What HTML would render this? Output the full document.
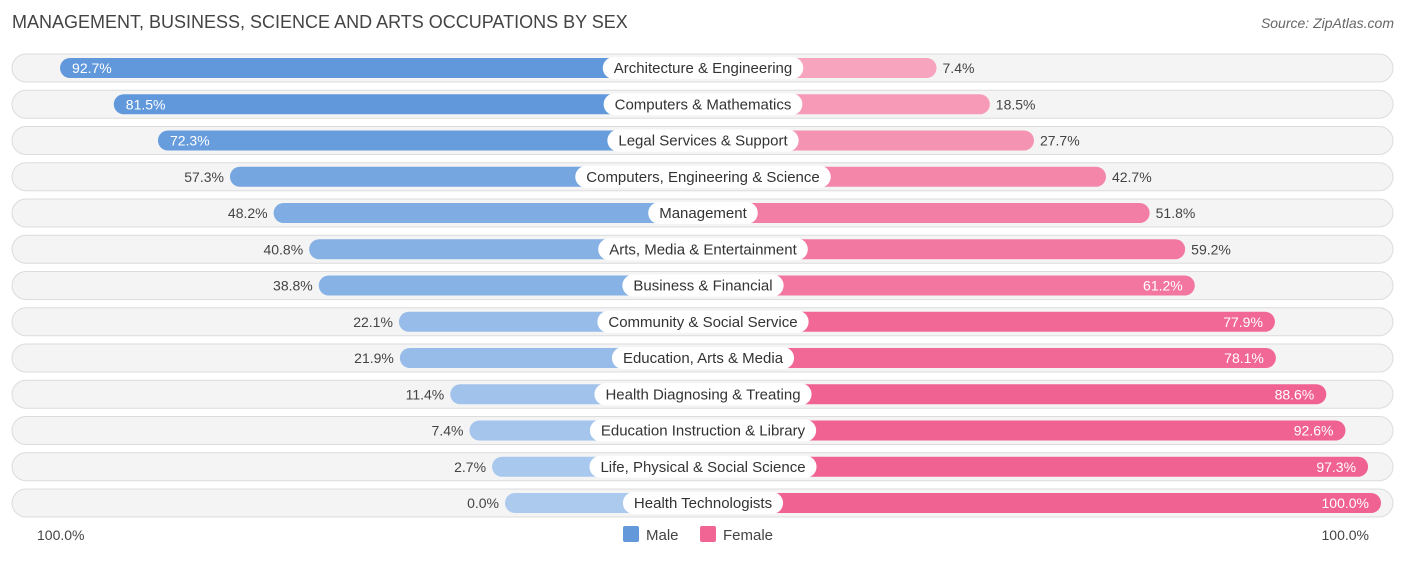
<!DOCTYPE html>
<html><head><meta charset="utf-8">
<style>
body{margin:0;background:#fff;font-family:"Liberation Sans",Roboto,sans-serif;}
svg text{font-family:"Liberation Sans",sans-serif;}
</style></head>
<body>
<svg id="chart" width="1406" height="559" xmlns="http://www.w3.org/2000/svg">
<text x="12" y="28" font-size="18" fill="#444">MANAGEMENT, BUSINESS, SCIENCE AND ARTS OCCUPATIONS BY SEX</text>
<text x="1394" y="28" font-size="14" fill="#666" font-style="italic" text-anchor="end">Source: ZipAtlas.com</text>
<g id="rows"></g>
<text x="37" y="540" font-size="14" fill="#444">100.0%</text>
<text x="1369" y="540" font-size="14" fill="#444" text-anchor="end">100.0%</text>
<g>
<rect x="623" y="526" width="16" height="16" rx="2" fill="#6399db"/>
<text x="646" y="540" font-size="15" fill="#444">Male</text>
<rect x="700" y="526" width="16" height="16" rx="2" fill="#f06593"/>
<text x="723" y="540" font-size="15" fill="#444">Female</text>
</g>
</svg>
<script>
const categories=["Architecture & Engineering","Computers & Mathematics","Legal Services & Support","Computers, Engineering & Science","Management","Arts, Media & Entertainment","Business & Financial","Community & Social Service","Education, Arts & Media","Health Diagnosing & Treating","Education Instruction & Library","Life, Physical & Social Science","Health Technologists"];
const maleValues=[92.7,81.5,72.3,57.3,48.2,40.8,38.8,22.1,21.9,11.4,7.4,2.7,0.0];
const femaleValues=[7.4,18.5,27.7,42.7,51.8,59.2,61.2,77.9,78.1,88.6,92.6,97.3,100.0];
const NS="http://www.w3.org/2000/svg";
const cx=703,stub=198,scale=4.8,y0=68,dy=36.25;
function halfLen(v){return stub+v*scale;}
function rowY(i){return y0+i*dy;}
function mix(a,b,t){return "rgb("+a.map((c,k)=>Math.round(c+(b[k]-c)*t)).join(",")+")";}
const mLight=[172,202,238],mDark=[96,152,219],fLight=[248,170,195],fDark=[240,98,146];
const g=document.getElementById("rows");
function mk(tag,attrs,parent){const e=document.createElementNS(NS,tag);for(const k in attrs)e.setAttribute(k,attrs[k]);parent.appendChild(e);return e;}
categories.forEach((c,i)=>{
 const y=rowY(i);
 const row=mk("g",{},g);
 
 
 const bg=mk("rect",{x:12,y:y-14,width:1381,height:28,rx:14,fill:"#f4f4f4",stroke:"#dcdcdc","stroke-width":1},row);
 
 
 const m=maleValues[i],f=femaleValues[i];
 const ml=halfLen(m),fl=halfLen(f);
 const mb=mk("rect",{x:cx-ml,y:y-10,width:ml,height:20,rx:10,fill:mix(mLight,mDark,Math.min(1,m/80))},row);
 
 
 const fb=mk("rect",{x:cx,y:y-10,width:fl,height:20,rx:10,fill:mix(fLight,fDark,Math.min(1,f/85))},row);
 
 
 // category label
 const lbl=mk("text",{x:cx,y:y+5,"font-size":15,fill:"#333","text-anchor":"middle"},row);
 lbl.textContent=c;
 
 
 const w=lbl.getComputedTextLength()+22;
 const pill=mk("rect",{x:cx-w/2,y:y-11,width:w,height:22,rx:11,fill:"#fff"},row);
 
 
 row.appendChild(lbl);
 // values
 const mIn=m>=65;
 const mt=mk("text",{x:mIn?cx-ml+12:cx-ml-6,y:y+5,"font-size":14,fill:mIn?"#fff":"#444","text-anchor":mIn?"start":"end"},row);
 mt.textContent=m.toFixed(1)+"%";
 
 
 const fIn=f>=60;
 const ft=mk("text",{x:fIn?cx+fl-12:cx+fl+6,y:y+5,"font-size":14,fill:fIn?"#fff":"#444","text-anchor":fIn?"end":"start"},row);
 ft.textContent=f.toFixed(1)+"%";
 
 
});
</script>
</body></html>
